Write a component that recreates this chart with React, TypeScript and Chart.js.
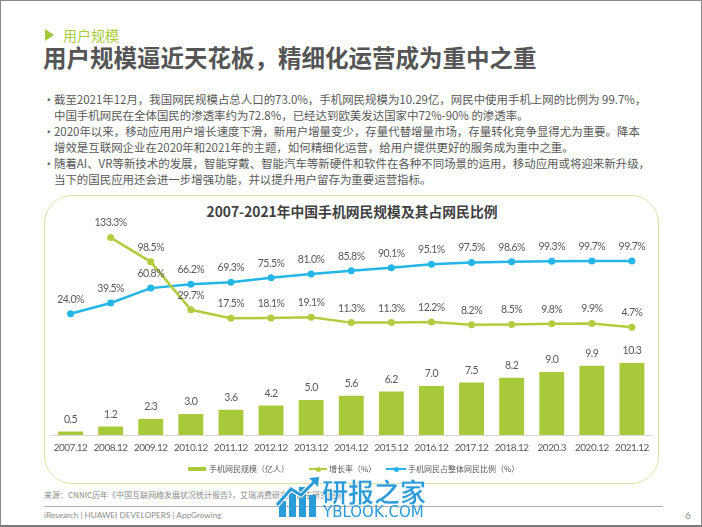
import React, { useEffect, useRef } from "react";
import { Chart, registerables } from "chart.js";

Chart.register(...registerables);

const categories = [
  "2007.12", "2008.12", "2009.12", "2010.12", "2011.12", "2012.12", "2013.12", "2014.12",
  "2015.12", "2016.12", "2017.12", "2018.12", "2020.3", "2020.12", "2021.12",
];
const mobileUsers = [0.5, 1.2, 2.3, 3.0, 3.6, 4.2, 5.0, 5.6, 6.2, 7.0, 7.5, 8.2, 9.0, 9.9, 10.3];
const growthRate = [null, 133.3, 98.5, 29.7, 17.5, 18.1, 19.1, 11.3, 11.3, 12.2, 8.2, 8.5, 9.8, 9.9, 4.7];
const mobileShare = [24.0, 39.5, 60.8, 66.2, 69.3, 75.5, 81.0, 85.8, 90.1, 95.1, 97.5, 98.6, 99.3, 99.7, 99.7];
const seriesNames = ["手机网民规模（亿人）", "增长率（%）", "手机网民占整体网民比例（%）"];

const pageTag = "用户规模";
const pageTitle = "用户规模逼近天花板，精细化运营成为重中之重";
const chartTitle = "2007-2021年中国手机网民规模及其占网民比例";
const bulletLines = [
  { bullet: true, text: "截至2021年12月，我国网民规模占总人口的73.0%，手机网民规模为10.29亿，网民中使用手机上网的比例为 99.7%，" },
  { bullet: false, text: "中国手机网民在全体国民的渗透率约为72.8%，已经达到欧美发达国家中72%-90% 的渗透率。" },
  { bullet: true, text: "2020年以来，移动应用用户增长速度下滑，新用户增量变少，存量代替增量市场，存量转化竞争显得尤为重要。降本" },
  { bullet: false, text: "增效是互联网企业在2020年和2021年的主题，如何精细化运营，给用户提供更好的服务成为重中之重。" },
  { bullet: true, text: "随着AI、VR等新技术的发展，智能穿戴、智能汽车等新硬件和软件在各种不同场景的运用，移动应用或将迎来新升级，" },
  { bullet: false, text: "当下的国民应用还会进一步增强功能，并以提升用户留存为重要运营指标。" },
];
const sourceText = "来源：CNNIC历年《中国互联网络发展状况统计报告》，艾瑞消费研究院自主研究绘制";
const footerText = "iResearch | HUAWEI DEVELOPERS | AppGrowing";
const pageNumber = "6";

const BAR_GREEN = "#a7c93a";
const LINE_GREEN = "#b3cc3f";
const BLUE = "#23b6e6";
const TEXT = "#595959";
const CJK = "'Noto Sans CJK SC', sans-serif";
const LABEL_FONT = "Lato, 'Noto Sans CJK SC', sans-serif";

const tightText = {
  id: "tightText",
  beforeDraw(chart: any) {
    chart.ctx.letterSpacing = "-0.5px";
  },
};

const valueLabels = {
  id: "valueLabels",
  afterDatasetsDraw(chart: any) {
    const ctx = chart.ctx;
    ctx.save();
    ctx.letterSpacing = "-0.5px";
    ctx.font = `10.5px ${LABEL_FONT}`;
    ctx.fillStyle = TEXT;
    ctx.textAlign = "center";
    ctx.textBaseline = "middle";
    chart.data.datasets.forEach((ds: any, i: number) => {
      const meta = chart.getDatasetMeta(i);
      meta.data.forEach((el: any, j: number) => {
        const v = ds.data[j];
        if (v === null || v === undefined) return;
        if (ds.type === "bar") {
          ctx.fillText(v.toFixed(1), el.x, el.y - 12);
        } else {
          ctx.fillText(v.toFixed(1) + "%", el.x, el.y - 14.5);
        }
      });
    });
    ctx.restore();
  },
};

function ChartCanvas() {
  const ref = useRef<HTMLCanvasElement | null>(null);
  useEffect(() => {
    if (!ref.current) return;
    const chart = new Chart(ref.current, {
      type: "bar",
      data: {
        labels: categories,
        datasets: [
          {
            type: "line",
            label: seriesNames[1],
            data: growthRate,
            yAxisID: "y2",
            borderColor: LINE_GREEN,
            backgroundColor: LINE_GREEN,
            pointBackgroundColor: LINE_GREEN,
            pointBorderWidth: 0,
            pointRadius: 3.5,
            borderWidth: 2.5,
            tension: 0,
            order: 1,
          } as any,
          {
            type: "line",
            label: seriesNames[2],
            data: mobileShare,
            yAxisID: "y2",
            borderColor: BLUE,
            backgroundColor: BLUE,
            pointBackgroundColor: BLUE,
            pointBorderWidth: 0,
            pointRadius: 3.5,
            borderWidth: 2.5,
            tension: 0,
            order: 2,
          } as any,
          {
            type: "bar",
            label: seriesNames[0],
            data: mobileUsers,
            yAxisID: "y",
            backgroundColor: BAR_GREEN,
            categoryPercentage: 1,
            barPercentage: 0.62,
            order: 3,
          } as any,
        ],
      },
      options: {
        responsive: false,
        animation: false,
        layout: { padding: { left: 6.5, right: 7, top: 28, bottom: 0 } },
        plugins: {
          legend: { display: false },
          title: { display: false },
          tooltip: { enabled: false },
        },
        scales: {
          x: {
            grid: { display: false, drawTicks: false },
            border: { display: true, color: "#d9d9d9", width: 1 },
            ticks: {
              color: TEXT,
              font: { family: LABEL_FONT, size: 10 },
              padding: 7,
              autoSkip: false,
              maxRotation: 0,
            },
            afterFit: (s: any) => {
              s.height = 49;
            },
          },
          y: { display: false, min: 0, max: 30.3 },
          y2: { display: false, min: -149.9, max: 154.2 },
        },
      },
      plugins: [tightText, valueLabels],
    } as any);
    return () => chart.destroy();
  }, []);
  return (
    <canvas
      ref={ref}
      width={615}
      height={289}
      style={{ position: "absolute", left: 43, top: 194, width: 615, height: 289 }}
    />
  );
}

function Txt(props: { left: number; cy: number; size: number; lh?: number; style?: any; children: any }) {
  const lh = props.lh ?? Math.round(props.size * 1.4);
  return (
    <div
      style={{
        position: "absolute",
        left: props.left,
        top: props.cy - lh / 2,
        fontSize: props.size,
        lineHeight: lh + "px",
        whiteSpace: "nowrap",
        ...props.style,
      }}
    >
      {props.children}
    </div>
  );
}

export default function App() {
  return (
    <div
      style={{
        position: "absolute",
        left: 0,
        top: 0,
        width: 702,
        height: 527,
        background: "#fff",
        overflow: "hidden",
        fontFamily: CJK,
        color: TEXT,
        boxSizing: "border-box",
        borderTop: "1px solid #8a8a8a",
        borderLeft: "1px solid #8a8a8a",
        borderRight: "1px solid #8a8a8a",
        borderBottom: "2px solid #7a7a7a",
      }}
    >
      {/* tag */}
      <div
        style={{
          position: "absolute",
          left: 44,
          top: 28,
          width: 0,
          height: 0,
          borderTop: "6px solid transparent",
          borderBottom: "6px solid transparent",
          borderLeft: "9px solid #a3c93a",
        }}
      />
      <Txt left={62} cy={34} size={14} style={{ color: "#a8cd3c" }}>
        {pageTag}
      </Txt>
      <Txt left={42} cy={56} size={23.5} style={{ fontWeight: 700, color: "#555" }}>
        {pageTitle}
      </Txt>

      {bulletLines.map((l, i) => (
        <React.Fragment key={i}>
          {l.bullet && (
            <Txt left={42} cy={97.7 + i * 16} size={11.5} lh={16}>
              •
            </Txt>
          )}
          <Txt left={53} cy={97.7 + i * 16} size={11.45} lh={16}>
            {l.text}
          </Txt>
        </React.Fragment>
      ))}

      {/* chart frame */}
      <div
        style={{
          position: "absolute",
          left: 43,
          top: 194,
          width: 615,
          height: 289,
          boxSizing: "border-box",
          border: "1.5px solid #d6e4a2",
          borderRadius: 28,
        }}
      />
      <div
        style={{
          position: "absolute",
          left: 0,
          width: 702,
          top: 200,
          lineHeight: "20px",
          textAlign: "center",
          fontSize: 13.8,
          fontWeight: 700,
          color: "#404040",
        }}
      >
        {chartTitle}
      </div>
      <ChartCanvas />

      {/* legend */}
      <div style={{ position: "absolute", left: 187, top: 466, width: 18, height: 4, background: BAR_GREEN }} />
      <Txt left={208} cy={468} size={8} lh={12}>
        {seriesNames[0]}
      </Txt>
      <div style={{ position: "absolute", left: 308, top: 467, width: 18, height: 2, background: LINE_GREEN }} />
      <div style={{ position: "absolute", left: 314.5, top: 465.5, width: 5, height: 5, borderRadius: 3, background: LINE_GREEN }} />
      <Txt left={328} cy={468} size={8} lh={12}>
        {seriesNames[1]}
      </Txt>
      <div style={{ position: "absolute", left: 385, top: 467, width: 20, height: 2, background: BLUE }} />
      <div style={{ position: "absolute", left: 392.5, top: 465.5, width: 5, height: 5, borderRadius: 3, background: BLUE }} />
      <Txt left={407} cy={468} size={8} lh={12}>
        {seriesNames[2]}
      </Txt>

      {/* source & footer */}
      <Txt left={43} cy={494} size={8} lh={12} style={{ color: "#8c8c8c" }}>
        {sourceText}
      </Txt>
      <div style={{ position: "absolute", left: 43, top: 505, width: 619, height: 1, background: "#b0b0b0" }} />
      <Txt left={43} cy={514} size={8.2} lh={12} style={{ color: "#8c8c8c", fontFamily: "Lato, sans-serif" }}>
        {footerText}
      </Txt>
      <Txt left={684} cy={514} size={10} lh={12} style={{ color: "#8c8c8c", fontFamily: "Lato, sans-serif" }}>
        {pageNumber}
      </Txt>

      {/* watermark */}
      <svg style={{ position: "absolute", left: 274, top: 474 }} width={48} height={44}>
        <rect x={4} y={26} width={7} height={16} fill="#2a9ad9" />
        <rect x={14} y={18} width={7} height={24} fill="#2a9ad9" />
        <rect x={24} y={12} width={7} height={30} fill="#2a9ad9" />
        <rect x={34} y={20} width={7} height={22} fill="#2a9ad9" />
        <polyline points="2,30 16,14 26,20 42,4" fill="none" stroke="#fff" strokeWidth={5} />
        <polyline points="2,30 16,14 26,20 42,4" fill="none" stroke="#2a9ad9" strokeWidth={3} />
        <polygon points="44,2 34,3 43,12" fill="#2a9ad9" />
      </svg>
      <Txt left={321} cy={490} size={26} lh={30} style={{ color: "#2a9ad9", fontWeight: 700, WebkitTextStroke: "0.5px #fff" }}>
        研报之家
      </Txt>
      <Txt left={322} cy={511} size={15} lh={16} style={{ color: "#2a9ad9", fontFamily: "'DejaVu Sans', sans-serif" }}>
        YBLOOK.COM
      </Txt>
    </div>
  );
}
